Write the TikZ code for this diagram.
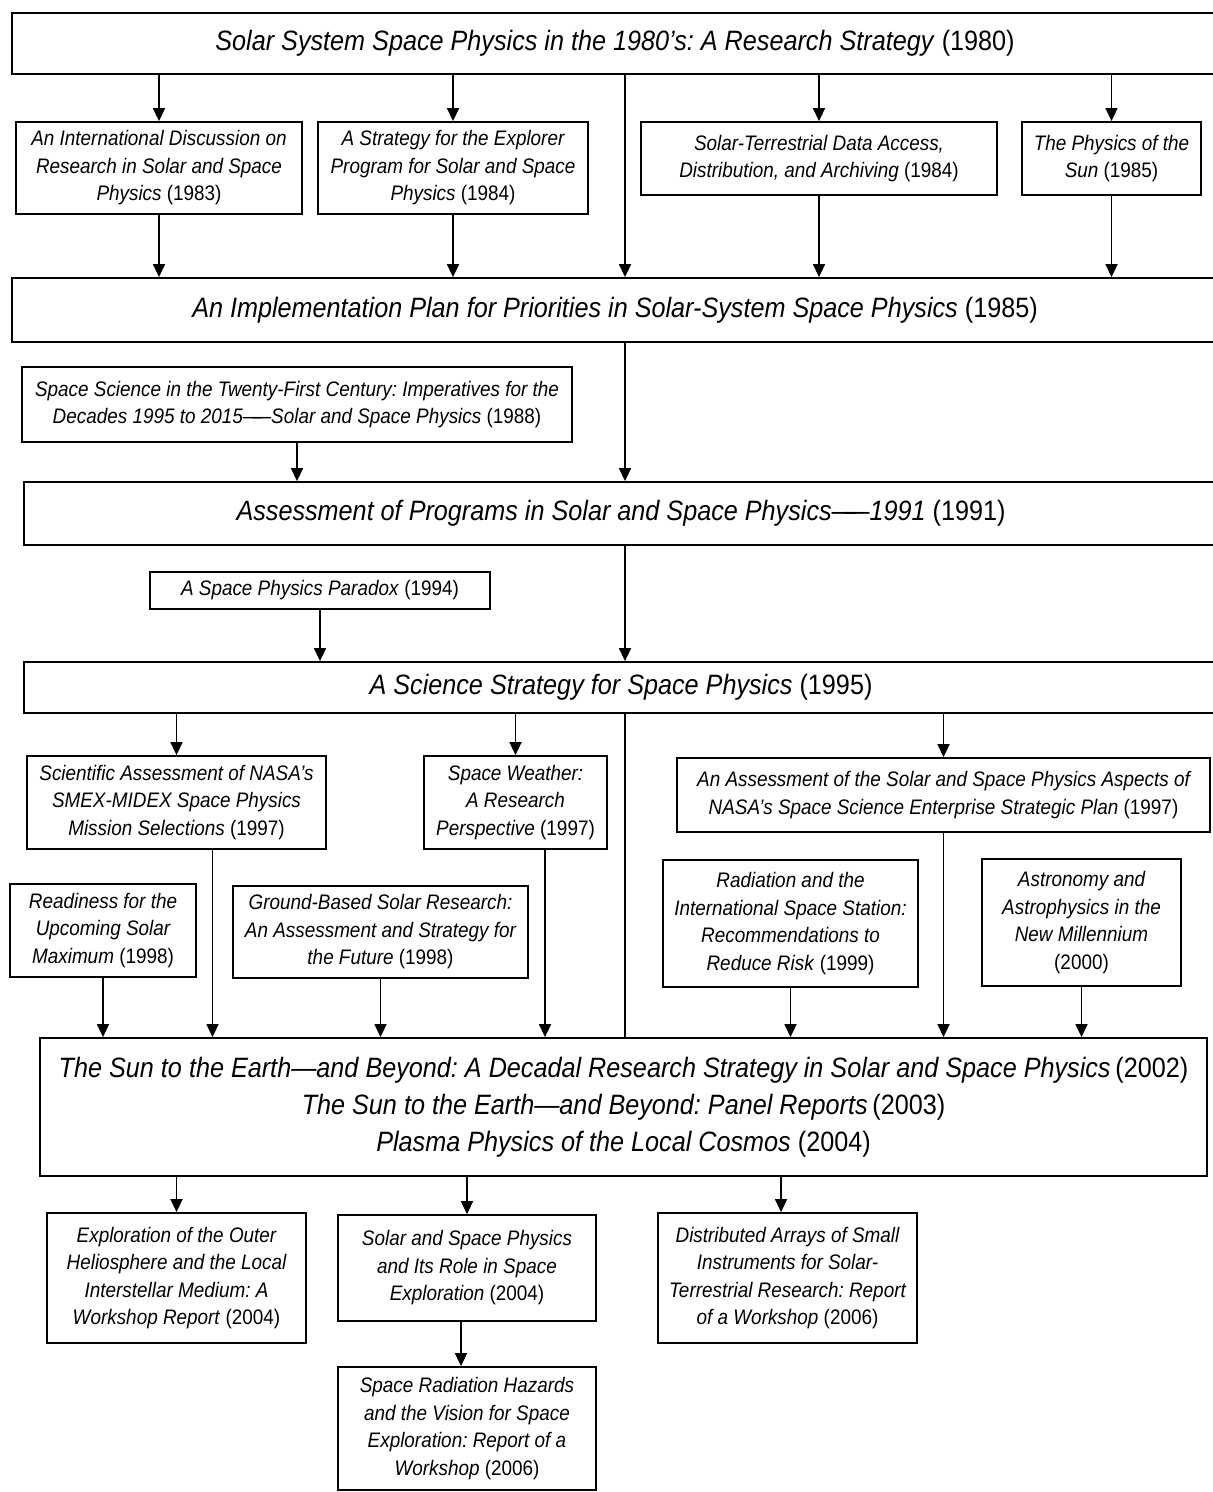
\documentclass[tikz,border=0pt]{standalone}
\usepackage{fontspec}
\setmainfont{Liberation Sans}[FakeStretch=0.9]
\usetikzlibrary{arrows.meta}

\tikzset{
	box/.style={draw, line width=0.9pt, align=center, inner sep=0pt, font=\fontsize{10.5}{13.75}\selectfont\itshape},
	bigbox/.style={draw, line width=0.9pt, align=center, inner sep=0pt, font=\fontsize{14}{18.5}\selectfont\itshape},
	arr/.style={line width=0.8pt, -{Triangle[width=6pt,length=6.5pt]}},
	link/.style={line width=0.8pt}
}
\newcommand{\yr}[1]{\textup{(#1)}}
\newcommand{\ldash}{---\kern-.45em---}
\frenchspacing

\begin{document}
\begin{tikzpicture}[x=0.5pt,y=-0.5pt]
		\useasboundingbox (0,0) rectangle (1212,1492);
		\fill[white] (0,0) rectangle (1212,1492);
		\coordinate (spine) at (625,0);

		\node[bigbox, minimum width=603pt, minimum height=30.5pt] (t1980) at (615,43.5) {Solar System Space Physics in the 1980's: A Research Strategy \yr{1980}};

		\node[box, minimum width=143pt, minimum height=46pt] (a1983) at (159,168) {An International Discussion on\\Research in Solar and Space\\Physics \yr{1983}};
		\node[box, minimum width=135pt, minimum height=46pt] (e1984) at (453,168) {A Strategy for the Explorer\\Program for Solar and Space\\Physics \yr{1984}};
		\node[box, minimum width=178pt, minimum height=36.5pt] (d1984) at (819,158.5) {Solar-Terrestrial Data Access,\\Distribution, and Archiving \yr{1984}};
		\node[box, minimum width=89.5pt, minimum height=36.5pt] (p1985) at (1111.5,158.5) {The Physics of the\\Sun \yr{1985}};

		\node[bigbox, minimum width=603pt, minimum height=32pt] (impl) at (615,310) {An Implementation Plan for Priorities in Solar-System Space Physics \yr{1985}};

		\node[box, minimum width=275pt, minimum height=37.5pt] (ss1988) at (297,404.5) {Space Science in the Twenty-First Century: Imperatives for the\\Decades 1995 to 2015\ldash Solar and Space Physics \yr{1988}};

		\node[bigbox, minimum width=597pt, minimum height=31.5pt] (as1991) at (621,513.5) {Assessment of Programs in Solar and Space Physics\ldash 1991 \yr{1991}};

		\node[box, minimum width=170pt, minimum height=18.5pt] (px1994) at (320,590.5) {A Space Physics Paradox \yr{1994}};

		\node[bigbox, minimum width=597pt, minimum height=25.5pt] (st1995) at (621,687.5) {A Science Strategy for Space Physics \yr{1995}};

		\node[box, minimum width=149.5pt, minimum height=46.5pt] (sm1997) at (176.5,802.5) {Scientific Assessment of NASA's\\SMEX-MIDEX Space Physics\\Mission Selections \yr{1997}};
		\node[box, minimum width=91.5pt, minimum height=46.5pt] (sw1997) at (515.5,802.5) {Space Weather:\\A Research\\Perspective \yr{1997}};
		\node[box, minimum width=266.5pt, minimum height=37pt] (ap1997) at (943.5,795) {An Assessment of the Solar and Space Physics Aspects of\\NASA's Space Science Enterprise Strategic Plan \yr{1997}};

		\node[box, minimum width=93pt, minimum height=46.5pt] (rd1998) at (103,930.5) {Readiness for the\\Upcoming Solar\\Maximum \yr{1998}};
		\node[box, minimum width=147.5pt, minimum height=46pt] (gb1998) at (380.5,932) {Ground-Based Solar Research:\\An Assessment and Strategy for\\the Future \yr{1998}};
		\node[box, minimum width=127.5pt, minimum height=63.5pt] (rs1999) at (790.5,923.5) {Radiation and the\\International Space Station:\\Recommendations to\\Reduce Risk \yr{1999}};
		\node[box, minimum width=99.5pt, minimum height=63.5pt] (aa2000) at (1081.5,922.5) {Astronomy and\\Astrophysics in the\\New Millennium\\\yr{2000}};

		\node[bigbox, minimum width=583.5pt, minimum height=69pt] (sun2002) at (623.5,1107) {The Sun to the Earth---and Beyond: A Decadal Research Strategy in Solar and Space Physics\,\yr{2002}\\The Sun to the Earth---and Beyond: Panel Reports\,\yr{2003}\\Plasma Physics of the Local Cosmos \yr{2004}};

		\node[box, minimum width=129.5pt, minimum height=65pt] (oh2004) at (176.5,1278) {Exploration of the Outer\\Heliosphere and the Local\\Interstellar Medium: A\\Workshop Report \yr{2004}};
		\node[box, minimum width=129pt, minimum height=53pt] (sr2004) at (467,1268) {Solar and Space Physics\\and Its Role in Space\\Exploration \yr{2004}};
		\node[box, minimum width=129.5pt, minimum height=65pt] (da2006) at (787.5,1278) {Distributed Arrays of Small\\Instruments for Solar-\\Terrestrial Research: Report\\of a Workshop \yr{2006}};
		\node[box, minimum width=129pt, minimum height=61.5pt] (rh2006) at (467,1428.5) {Space Radiation Hazards\\and the Vision for Space\\Exploration: Report of a\\Workshop \yr{2006}};

		% 1980 -> 1985
		\foreach \n in {a1983,e1984,d1984,p1985}{
			\draw[arr] (\n.north |- t1980.south) -- (\n.north);
			\draw[arr] (\n.south) -- (\n.south |- impl.north);
		}
		\draw[arr] (spine |- t1980.south) -- (spine |- impl.north);

		% 1985 -> 1991 -> 1995
		\draw[arr] (ss1988.south) -- (ss1988.south |- as1991.north);
		\draw[arr] (spine |- impl.south) -- (spine |- as1991.north);
		\draw[arr] (px1994.south) -- (px1994.south |- st1995.north);
		\draw[arr] (spine |- as1991.south) -- (spine |- st1995.north);

		% 1995 -> 2002
		\foreach \n in {sm1997,sw1997,ap1997}
			\draw[arr] (\n.north |- st1995.south) -- (\n.north);
		\draw[link] (spine |- st1995.south) -- (spine |- sun2002.north);
		\draw[arr] ([xshift=18pt]sm1997.south) -- ([xshift=18pt]sm1997.south |- sun2002.north);
		\draw[arr] ([xshift=14.75pt]sw1997.south) -- ([xshift=14.75pt]sw1997.south |- sun2002.north);
		\foreach \n in {ap1997,rd1998,gb1998,rs1999,aa2000}
			\draw[arr] (\n.south) -- (\n.south |- sun2002.north);

		% 2002 -> workshops
		\draw[arr] (oh2004.north |- sun2002.south) -- (oh2004.north);
		\draw[arr] (sr2004.north |- sun2002.south) -- (sr2004.north);
		\draw[arr] ([xshift=-3.25pt]da2006.north |- sun2002.south) -- ([xshift=-3.25pt]da2006.north);
		\draw[arr] ([xshift=-3pt]sr2004.south) -- ([xshift=-3pt]rh2006.north);
	\end{tikzpicture}
\end{document}
